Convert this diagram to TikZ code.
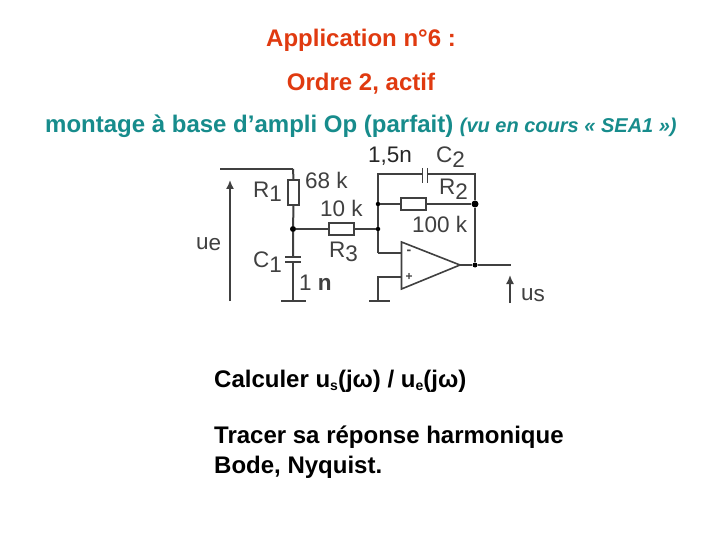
\documentclass[tikz,border=0pt]{standalone}
\usepackage{fontspec}
\setmainfont{Liberation Sans}
\usetikzlibrary{arrows.meta}
\definecolor{wirec}{HTML}{404040}
\definecolor{titlec}{HTML}{E03A10}
\definecolor{tealc}{HTML}{178C8C}
\tikzset{
  x=1pt,y=-1pt,
  wire/.style={draw=wirec,line width=1.3pt},
  thick wire/.style={draw=wirec,line width=2pt},
  resistor/.style={draw=wirec,fill=white,line width=1.4pt,inner sep=0pt,minimum width=25pt,minimum height=12pt},
  resistorv/.style={draw=wirec,fill=white,line width=1.4pt,inner sep=0pt,minimum width=11pt,minimum height=25pt},
  plate/.style={draw=wirec,line width=2pt},
  junction/.style={circle,fill=black,inner sep=0pt,minimum size=5pt},
  title/.style={font=\bfseries\fontsize{24}{28}\selectfont,text=titlec,inner sep=0pt,anchor=base},
  body/.style={font=\bfseries\fontsize{24}{28}\selectfont,text=black,inner sep=0pt,anchor=base west},
  lab/.style={font=\fontsize{22.5}{26}\selectfont,text=wirec,inner sep=0pt,anchor=base west},
  vold/.style={draw=wirec,line width=1.6pt,-{Latex[length=9pt,width=8pt]}},
}
\newcommand{\lowsub}[1]{\raisebox{-5pt}{#1}}
\newcommand{\smallsub}[1]{\raisebox{-3pt}{\fontsize{14}{15}\selectfont #1}}
\begin{document}
\begin{tikzpicture}
\useasboundingbox (0,0) rectangle (720,540);
\fill[white] (0,0) rectangle (720,540);
% titles
\node[title] (t1) at (361,46.5) {Application n°6 :};
\node[title] (t2) at (361,90.5) {Ordre 2, actif};
\node[title,anchor=base west,text=tealc] (t3) at (45,133) {montage à base d’ampli Op (parfait) {\itshape\fontsize{20}{22}\selectfont (vu en cours « SEA1 »)}};
% coordinates
\coordinate (topL) at (220,169);
\coordinate (topC) at (293,169);
\node[resistorv] (R1) at (293.5,192.5) {};
\node[junction,minimum size=6pt] (J1) at (293,229) {};
\node[resistor] (R3) at (341.5,229) {};
\node[junction,minimum size=4.5pt] (J2) at (378,229) {};
\node[junction,minimum size=4.5pt] (J3) at (378,204) {};
\coordinate (C1a) at (293,257);
\coordinate (C1b) at (293,262);
\coordinate (G1) at (293,301);
\coordinate (G1l) at (281,301);
\coordinate (G1r) at (306,301);
\coordinate (c2tl) at (378,174);
\coordinate (c2tr) at (475,174);
\coordinate (C2a) at (422.5,174);
\coordinate (C2b) at (427.5,174);
\node[resistor] (R2) at (413.5,204) {};
\node[junction,minimum size=7pt] (J4) at (475,204) {};
\node[junction,minimum size=5pt] (J5) at (475,265) {};
\coordinate (Ominus) at (401,253);
\coordinate (Oplus) at (401,277);
\coordinate (Ot) at (401.5,242);
\coordinate (Ob) at (401.5,289);
\coordinate (Oo) at (460,265);
\coordinate (Pc) at (378,277);
\coordinate (G2) at (378,301);
\coordinate (G2l) at (369,301);
\coordinate (G2r) at (390,301);
\coordinate (Out) at (511,265);
\coordinate (M) at (378,253);
% left branch
\draw[wire] (topL) -- (topC);
\draw[thick wire] (topC) -- (R1.north);
\draw[thick wire] (R1.south) -- (J1) -- (C1a);
\draw[thick wire] (C1b) -- (G1);
\draw[plate] (285,257) -- (301,257);
\draw[plate] (285,262) -- (301,262);
\draw[wire] (G1l) -- (G1r);
\draw[wire] (J1) -- (R3.west);
\draw[wire] (R3.east) -- (J2);
% feedback
\draw[wire] (M) -- (J2) -- (J3) -- (c2tl) -- (C2a);
\draw[plate,line width=1.6pt] (422.5,168) -- (422.5,183);
\draw[plate,line width=1.6pt] (427.5,168) -- (427.5,183);
\draw[wire] (C2b) -- (c2tr) -- (J4);
\draw[wire] (J3) -- (R2.west);
\draw[wire] (R2.east) -- (J4);
\draw[thick wire] (J4) -- (J5);
% op amp
\draw[thick wire] (M) -- (Ominus);
\draw[wire] (Oplus) -- (Pc) -- (G2);
\draw[wire] (G2l) -- (G2r);
\draw[wire,line width=1.6pt] (Ot) -- (Ob) -- (Oo) -- cycle;
\draw[wire] (Oo) -- (J5) -- (Out);
\node[inner sep=0pt,font=\bfseries\fontsize{14}{14}\selectfont,text=wirec] (om) at (409,252.5) {-};
\node[inner sep=0pt,font=\bfseries\fontsize{12}{14}\selectfont,text=wirec] (op) at (409,277) {+};
% voltages
\coordinate (ue0) at (230,301);
\coordinate (ue1) at (230,180);
\coordinate (us0) at (510,303);
\coordinate (us1) at (510,275);
\draw[vold] (ue0) -- (ue1);
\draw[vold] (us0) -- (us1);
% labels
\node[lab] (lR1) at (253,197) {R\lowsub{1}};
\node[lab] (l68) at (305,189) {68 k};
\node[lab] (l10) at (320,217) {10 k};
\node[lab] (lR3) at (329,257) {R\lowsub{3}};
\node[lab] (lue) at (196,249) {u\raisebox{-1.5pt}{e}};
\node[lab] (lC1) at (253,267) {C\lowsub{1}};
\node[lab] (l1n) at (299,290) {1 {\bfseries n}};
\node[lab,text=black!85] (l15) at (368,163) {1,5n};
\node[lab] (lC2) at (436,163) {C\lowsub{2}};
\node[lab] (lR2) at (439,195) {R\lowsub{2}};
\node[lab] (l100) at (412,233) {100 k};
\node[lab] (lus) at (521,300) {u\raisebox{-1.5pt}{s}};
% body
\node[body] (b1) at (214,387) {Calculer u\smallsub{s}(jω) / u\smallsub{e}(jω)};
\node[body] (b2) at (214,443) {Tracer sa réponse harmonique};
\node[body] (b3) at (214,473) {Bode, Nyquist.};
\end{tikzpicture}
\end{document}
